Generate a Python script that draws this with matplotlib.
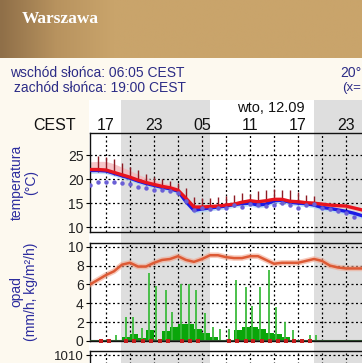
import numpy as np
import matplotlib
matplotlib.use("Agg")
import matplotlib.pyplot as plt
from matplotlib.colors import LinearSegmentedColormap

plt.rcParams['font.family'] = ['Liberation Sans', 'DejaVu Sans']

# ---------------- data ----------------
hours = np.arange(15, 50)  # 15:00 on day 1 ... 01:00 day 3 (hours since day-1 midnight)
temp_main = [22.0, 22.0, 21.9, 21.4, 20.9, 20.4, 19.8, 19.3, 18.9, 18.5, 18.2, 17.7, 16.0, 14.2,
             14.2, 14.3, 14.4, 14.6, 14.8, 15.2, 15.5, 15.3, 15.5, 15.8, 15.8, 15.4, 15.3, 15.1,
             15.0, 14.8, 14.6, 14.5, 14.4, 14.0, 13.6]
temp_blue = [21.8, 21.8, 21.7, 21.2, 20.7, 20.2, 19.6, 19.1, 18.7, 18.3, 18.0, 17.5, 15.3, 13.5,
             13.8, 14.0, 14.2, 14.4, 14.7, 14.9, 15.0, 14.6, 14.8, 15.5, 15.6, 15.2, 15.0, 14.9,
             14.6, 14.1, 13.9, 13.6, 13.3, 12.9, 12.4]
temp_spread_up = [1.6, 1.7, 1.8, 1.8, 1.6, 1.4, 1.2, 1.0, 0.9, 0.8, 0.7, 0.6, 0.5, 0.4,
                  0.4, 0.4, 0.4, 0.4, 0.4, 0.4, 0.4, 0.4, 0.4, 0.4, 0.4, 0.4, 0.4, 0.4,
                  0.4, 0.4, 0.4, 0.4, 0.4, 0.4, 0.4]
dot_hours = np.arange(15, 49)
temp_dots = [18.8, 19.4, 19.4, 19.4, 19.2, 18.9, 18.4, 18.1, 17.8, 17.8, 17.5, 17.2, 15.4, 13.5,
             13.9, 13.8, 13.9, 13.9, 14.6, 14.2, 14.9, 14.6, 14.4, 14.6, 15.1, 14.6, 13.9, 14.6,
             14.9, 13.9, 13.7, 13.4, 12.9, 12.1]
bar_hours = np.arange(16, 44)
temp_bar_top = [24.8, 24.6, 24.1, 23.3, 22.6, 21.8, 21.1, 20.4, 20.0, 19.6, 19.2, 18.2, 16.3, 16.1,
                16.1, 16.2, 16.4, 16.8, 17.2, 17.0, 17.5, 17.8, 18.0, 17.8, 17.7, 17.3, 16.8, 16.5]

precip_line = [6.0, 6.5, 7.0, 7.4, 8.1, 8.3, 7.9, 7.9, 8.3, 8.6, 8.7, 9.0, 8.6, 8.4, 8.7, 9.1,
               9.1, 8.9, 8.8, 8.8, 9.0, 9.0, 8.6, 8.2, 8.3, 8.3, 8.3, 8.5, 8.7, 8.5, 8.0, 7.8,
               7.7, 7.7, 7.7]
precip_hours = np.arange(15, 49)
precip_bars = [0, 0, 0, 0, 0.45, 0.7, 0.3, 1.15, 0.15, 1.1, 1.45, 1.8, 1.8, 1.25, 0.9, 0.45,
               0, 0.05, 1.15, 1.45, 1.5, 1.3, 0.9, 0.7, 0.4, 0.1, 0, 0.15, 0, 0, 0, 0, 0, 0]
spike_hours = [18.3, 19.5, 20.4, 21.5, 22.4, 23.3, 24.5, 25.3, 26.4, 27.4, 28.3, 29.4, 30.4,
               31.3, 32.4, 33.3, 34.5, 35.3, 36.3, 37.4, 38.3, 39.4, 40.4, 42.5, 43.3]
spike_vals = [0.6, 2.5, 2.5, 1.35, 7.25, 5.8, 5.4, 3.1, 6.0, 6.1, 5.4, 3.0, 1.5,
              1.25, 1.25, 6.5, 5.7, 3.7, 5.7, 7.5, 3.6, 2.0, 1.15, 0.6, 0.6]
dot0_hours = [16.4, 17.4, 19.5, 20.5, 21.6, 22.6, 23.7, 24.7, 26.5, 27.5, 28.5, 32.4, 33.4,
              34.5, 35.4, 36.5, 37.5, 38.5, 39.5, 40.5, 41.5, 42.5]

night_spans = [(19.0, 30.08), (43.0, 54.08)]
top_tick_hours = [17, 23, 29, 35, 41, 47]
top_tick_labels = ["17", "23", "05", "11", "17", "23"]
temp_ticks = [10, 15, 20, 25]
precip_ticks = [0, 2, 4, 6, 8, 10]
press_ticks = [1010]

# ---------------- figure ----------------
W, H = 362, 363
fig = plt.figure(figsize=(W / 100, H / 100), dpi=100)
fig.patch.set_facecolor('#fdf9ef')


def ax_at(x0, y0, x1, y1, **kw):
    return fig.add_axes([x0 / W, 1 - y1 / H, (x1 - x0) / W, (y1 - y0) / H], **kw)


# header gradient
hax = ax_at(0, 0, W, 58)
grad = np.linspace(0, 1, 256)
grad = np.clip(grad * 3.2, 0, 1)
cmap = LinearSegmentedColormap.from_list('hdr', ['#8f6f48', '#b8935f', '#c9a46b'])
hax.imshow(grad[None, :], aspect='auto', cmap=cmap, extent=[0, 1, 0, 1])
hax.set_axis_off()
fig.text(22 / W, 1 - 19 / H, "Warszawa", color='white', fontsize=12.5, fontweight='bold',
         family=['Liberation Serif', 'DejaVu Serif'], va='center', ha='left')

# sun info
blue_txt = '#2c2c86'
fig.text(10 / W, 1 - 73 / H, "wschód słońca: 06:05 CEST", color=blue_txt, fontsize=10,
         va='center', ha='left')
fig.text(14 / W, 1 - 88 / H, "zachód słońca: 19:00 CEST", color=blue_txt, fontsize=10,
         va='center', ha='left')
fig.text(340 / W, 1 - 73 / H, "20°", color=blue_txt, fontsize=10, va='center', ha='left')
fig.text(342 / W, 1 - 88 / H, "(x=", color=blue_txt, fontsize=9.5, va='center', ha='left')

# day/night background
bg = ax_at(89, 100, W, H)
bg.set_xlim(15, 49)
bg.set_ylim(0, 1)
bg.set_facecolor('white')
for a, b in night_spans:
    bg.axvspan(a, b, color='#dedede', lw=0)
bg.set_axis_off()
bg.add_patch(plt.Rectangle((15, 0), 34, 1, transform=bg.transData, facecolor='white',
                           zorder=-1))

# date + hours row
fig.text(271 / W, 1 - 108 / H, "wto, 12.09", fontsize=10.5, color='#111111', va='center',
         ha='center')
fig.text(76 / W, 1 - 126 / H, "CEST", fontsize=11.5, color='#111111', va='center', ha='right')
for h, lab in zip(top_tick_hours, top_tick_labels):
    xpx = 90 + (h - 15) * 8
    fig.text(xpx / W, 1 - 126 / H, lab, fontsize=11.5, color='#111111', va='center',
             ha='center')


def style(ax, yticks, ylim):
    ax.set_xlim(15, 49)
    ax.set_ylim(*ylim)
    ax.patch.set_alpha(0)
    ax.set_yticks(yticks)
    ax.set_xticks(np.arange(17, 49, 3))
    ax.tick_params(axis='x', length=0, labelbottom=False)
    ax.tick_params(axis='y', length=3, width=0.8, pad=1.5, labelsize=10,
                   labelcolor='#222222')
    ax.grid(True, color='black', linestyle=(0, (1.6, 2.0)), linewidth=0.9)
    for s in ['top', 'left', 'bottom']:
        ax.spines[s].set_color('#111111')
        ax.spines[s].set_linewidth(1.0)
    ax.spines['right'].set_visible(False)
    ax.set_axisbelow(True)


# temperature panel
tax = ax_at(90, 133, W, 232)
style(tax, temp_ticks, (9.0, 29.6))
tm = np.array(temp_main)
tb = np.array(temp_blue)
tax.fill_between(hours, tb - 0.6, tb + 0.3, color='#a8d4f5', alpha=0.7, lw=0)
tax.fill_between(hours, tm - 0.4, tm + np.array(temp_spread_up), color='#f6b8bc', alpha=0.8,
                 lw=0)
tmb = np.interp(bar_hours, hours, tm)
tax.vlines(bar_hours, tmb - 0.5, temp_bar_top, color='#8e1c24', lw=1.0, zorder=3)
tax.plot(hours, tb, color='#1c1ce6', lw=2.4, zorder=4)
tax.plot(hours, tm, color='#e8141e', lw=2.4, zorder=5)
tax.plot(dot_hours, temp_dots, linestyle='none', marker='o', markersize=3.2,
         color='#6a5fd6', markeredgewidth=0, zorder=6)
tax.set_ylabel("temperatura\n(°C)", color='#2c2c9e', fontsize=10, linespacing=1.05)
tax.yaxis.set_label_coords(-52 / 272, 0.5)

# precipitation panel
pax = ax_at(90, 243, W, 341)
style(pax, precip_ticks, (0, 10.4))
pax.bar(precip_hours, precip_bars, width=1.0, align='edge', color='#0aa60a', lw=0, zorder=3)
pax.vlines(spike_hours, 0, spike_vals, color='#3dbb3d', lw=1.3, zorder=3)
pax.plot(hours, precip_line, color='#f2a890', lw=4.0, alpha=0.6, zorder=4)
pax.plot(hours, precip_line, color='#dd5a35', lw=1.8, zorder=5)
pax.plot(dot0_hours, np.zeros(len(dot0_hours)), linestyle='none', marker='s',
         markersize=3.0, color='#c41e1e', markeredgewidth=0, zorder=6, clip_on=False)
pax.axhline(0, color='#2e4a2e', lw=1.5, zorder=5)
pax.set_ylabel("opad\n(mm/h, kg/m²/h)", color='#2c2c9e', fontsize=10, linespacing=1.05)
pax.yaxis.set_label_coords(-52 / 272, 0.5)

# pressure panel (mostly cut off)
rax = ax_at(90, 351, W, 451)
style(rax, press_ticks, (983, 1011.2))
rax.tick_params(axis='y', labelsize=9.5)
rax.spines['bottom'].set_visible(False)

fig.savefig("out.png", dpi=100, facecolor=fig.get_facecolor())
